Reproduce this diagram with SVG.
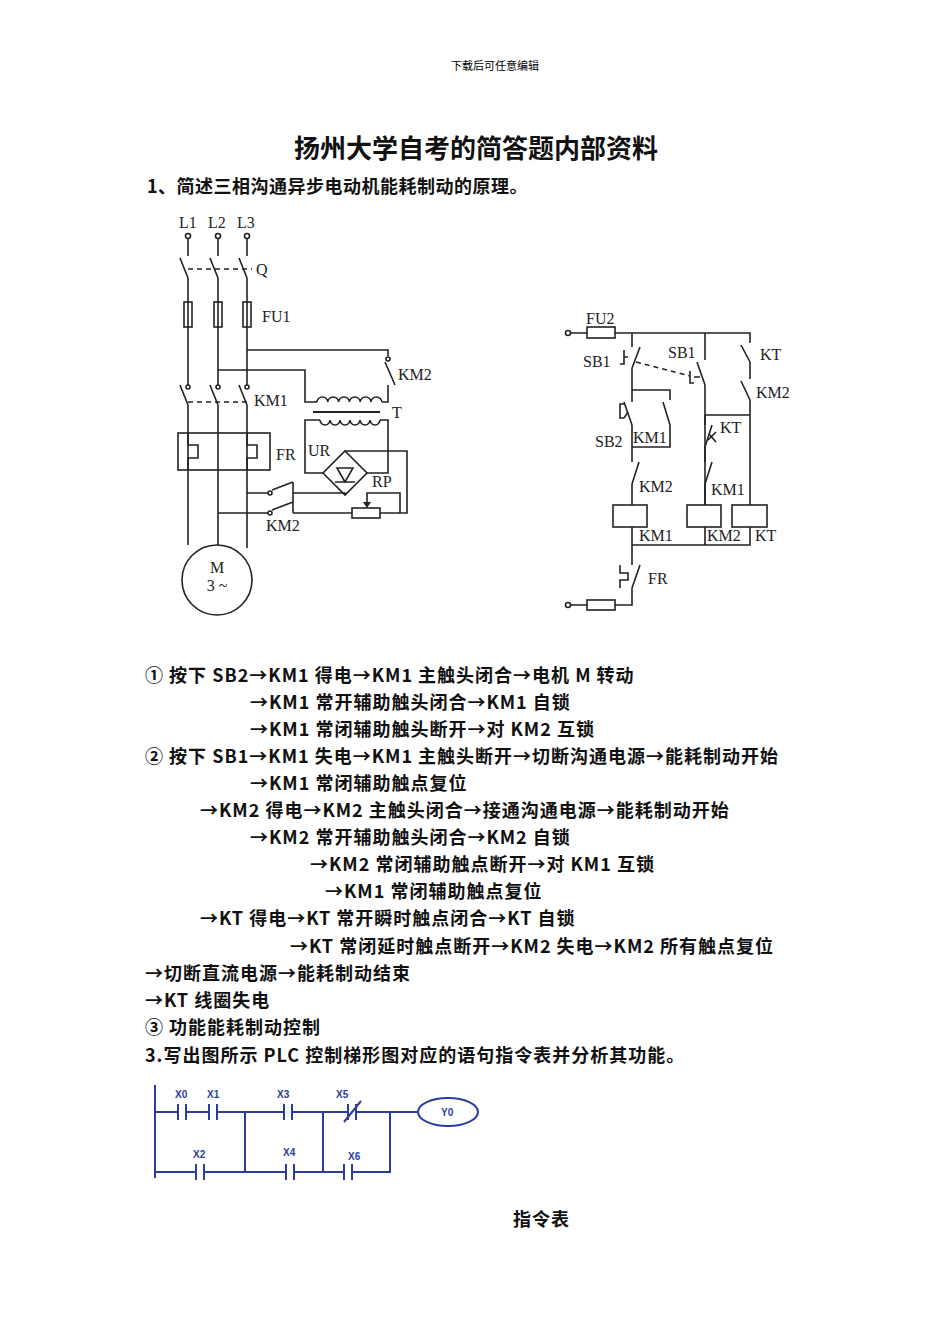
<svg xmlns="http://www.w3.org/2000/svg" width="950" height="1344" viewBox="0 0 950 1344">
<style>
.w{fill:none;stroke:#222;stroke-width:1.6}
.d{fill:none;stroke:#222;stroke-width:1.4;stroke-dasharray:5,4}
.lb{font-family:"Liberation Serif",serif;font-size:16px;fill:#222}
.t{font-family:"Noto Sans CJK SC","Liberation Sans",sans-serif;font-weight:bold;font-size:18px;letter-spacing:1px;fill:#111}
.b{fill:none;stroke:#2a3d9c;stroke-width:2}
.bl{font-family:"Liberation Sans",sans-serif;font-weight:bold;font-size:10px;fill:#2a3d9c}
</style>
<rect width="950" height="1344" fill="#fff"/>
<text x="495" y="70" text-anchor="middle" style="font-family:'Noto Sans CJK SC',sans-serif;font-size:11px">下载后可任意编辑</text>
<text x="476" y="158" text-anchor="middle" class="t" style="font-size:26px;letter-spacing:0">扬州大学自考的简答题内部资料</text>
<text x="147" y="193" class="t" style="letter-spacing:0.5px">1、简述三相沟通异步电动机能耗制动的原理。</text>

<g id="main-circuit">
<text x="179" y="228" class="lb">L1</text><text x="208" y="228" class="lb">L2</text><text x="237" y="228" class="lb">L3</text>
<g class="w">
<circle cx="188" cy="236" r="2.5"/><circle cx="218" cy="236" r="2.5"/><circle cx="247" cy="236" r="2.5"/>
<path d="M188 238V256M180 258L188 278M188 278V385M180 385L188 405M188 405V545"/>
<path d="M218 238V256M210 258L218 278M218 278V385M210 385L218 405M218 405V545"/>
<path d="M247 238V256M239 258L247 278M247 278V385M239 385L247 405M247 405V548"/>
<rect x="184" y="302" width="8" height="25"/><rect x="214" y="302" width="8" height="25"/><rect x="243" y="302" width="8" height="25"/>
<circle cx="188" cy="387" r="2"/><circle cx="218" cy="387" r="2"/><circle cx="247" cy="387" r="2"/>
<rect x="178" y="433" width="92" height="37"/>
<path d="M188 433V445H198V458H188V470M247 433V445H257V458H247V470"/>
<circle cx="217" cy="580" r="35"/>
<path d="M247 350H388V356M385 362L395 385M388 385V402H382"/>
<circle cx="388" cy="359" r="2"/>
<path d="M218 370H305V402H317"/>
<path d="M317 402a5.4 5 0 0 1 10.8 0a5.4 5 0 0 1 10.8 0a5.4 5 0 0 1 10.8 0a5.4 5 0 0 1 10.8 0a5.4 5 0 0 1 10.8 0a5.4 5 0 0 1 10.8 0"/>
<path d="M313 412H380" stroke-width="2"/>
<path d="M320 420a5 5 0 0 0 10 0a5 5 0 0 0 10 0a5 5 0 0 0 10 0a5 5 0 0 0 10 0a5 5 0 0 0 10 0a5 5 0 0 0 10 0"/>
<path d="M320 420H305V473H323M380 420H388V473H367"/>
<path d="M345 451L367 473L345 495L323 473Z"/>
<path d="M335 482H355M345 482L337 468H353Z M337 468H353"/>
<path d="M345 451H407V513H380"/>
<path d="M247 493H268M272 490L293 482M293 482V513M345 495V493H293"/>
<path d="M218 513H268M272 510L293 502M293 513H352"/>
<circle cx="270" cy="493" r="2"/><circle cx="270" cy="513" r="2"/>
<rect x="352" y="508" width="28" height="10"/>
<path d="M400 513V493H367V506"/>
</g>
<path d="M363 502L367 508L371 502Z" fill="#222"/>
<path class="d" d="M188 269H252M188 402H250"/>
<text x="256" y="275" class="lb">Q</text>
<text x="262" y="322" class="lb">FU1</text>
<text x="398" y="380" class="lb">KM2</text>
<text x="254" y="406" class="lb">KM1</text>
<text x="392" y="418" class="lb">T</text>
<text x="308" y="456" class="lb">UR</text>
<text x="276" y="460" class="lb">FR</text>
<text x="372" y="487" class="lb">RP</text>
<text x="266" y="531" class="lb">KM2</text>
<text x="217" y="573" class="lb" text-anchor="middle">M</text>
<text x="217" y="591" class="lb" text-anchor="middle">3 ~</text>
</g>

<g id="control-circuit">
<g class="w">
<circle cx="568" cy="333" r="2.5"/>
<path d="M571 333H587M615 333H750V343M741 345L750 362M750 362V379M741 381L750 400M750 400V505"/>
<rect x="587" y="327" width="28" height="11"/>
<path d="M632 333V347M640 347L632 368M632 368V390M632 390H670V400M663 402L670 425M670 425V447H632M632 390V402M624 402L632 425M632 425V462M639 462L632 484M632 484V505"/>
<path d="M624 357H628M624 350V364H620M624 404H620V418H624M624 418L628 412"/>
<path class="d" d="M636 362L690 376"/>
<path d="M690 371V383H694M694 377H700"/>
<path d="M705 333V360M697 362L705 385M705 385V505M705 415H750"/>
<path d="M705 415V425M712 425L705 447M705 447V462M712 462L705 484M705 484V505"/>
<path d="M708 440L716 432M709 434L716 442"/>
<rect x="613" y="505" width="34" height="22"/>
<rect x="687" y="505" width="34" height="22"/>
<rect x="732" y="505" width="35" height="22"/>
<path d="M632 527V545H750V527M705 527V545M632 545V565M640 565L632 588M632 588V605H615M587 605H571"/>
<path d="M620 565V573H628V580H620V588"/>
<rect x="587" y="600" width="28" height="10"/>
<circle cx="568" cy="605" r="2.5"/>
</g>
<text x="586" y="324" class="lb">FU2</text>
<text x="583" y="367" class="lb">SB1</text>
<text x="668" y="358" class="lb">SB1</text>
<text x="760" y="360" class="lb">KT</text>
<text x="756" y="398" class="lb">KM2</text>
<text x="720" y="433" class="lb">KT</text>
<text x="595" y="447" class="lb">SB2</text>
<text x="633" y="443" class="lb">KM1</text>
<text x="639" y="492" class="lb">KM2</text>
<text x="711" y="495" class="lb">KM1</text>
<text x="639" y="541" class="lb">KM1</text>
<text x="707" y="541" class="lb">KM2</text>
<text x="755" y="541" class="lb">KT</text>
<text x="648" y="584" class="lb">FR</text>
</g>

<g id="text-body" class="t">
<text x="145" y="682">① 按下 SB2→KM1 得电→KM1 主触头闭合→电机 M 转动</text>
<text x="250" y="709">→KM1 常开辅助触头闭合→KM1 自锁</text>
<text x="250" y="736">→KM1 常闭辅助触头断开→对 KM2 互锁</text>
<text x="145" y="763">② 按下 SB1→KM1 失电→KM1 主触头断开→切断沟通电源→能耗制动开始</text>
<text x="250" y="790">→KM1 常闭辅助触点复位</text>
<text x="200" y="817">→KM2 得电→KM2 主触头闭合→接通沟通电源→能耗制动开始</text>
<text x="250" y="844">→KM2 常开辅助触头闭合→KM2 自锁</text>
<text x="310" y="871">→KM2 常闭辅助触点断开→对 KM1 互锁</text>
<text x="325" y="898">→KM1 常闭辅助触点复位</text>
<text x="200" y="925">→KT 得电→KT 常开瞬时触点闭合→KT 自锁</text>
<text x="290" y="953">→KT 常闭延时触点断开→KM2 失电→KM2 所有触点复位</text>
<text x="145" y="980">→切断直流电源→能耗制动结束</text>
<text x="145" y="1007">→KT 线圈失电</text>
<text x="145" y="1034">③ 功能能耗制动控制</text>
<text x="145" y="1062">3.写出图所示 PLC 控制梯形图对应的语句指令表并分析其功能。</text>
<text x="513" y="1226">指令表</text>
</g>

<g id="ladder">
<path class="b" d="M155 1085V1178M155 1112H178M186 1112H209M217 1112H284M292 1112H348M356 1112H418M155 1172H196M204 1172H286M294 1172H344M352 1172H390V1112M245 1112V1172M323 1112V1172"/>
<path class="b" d="M178 1104V1120M186 1104V1120M209 1104V1120M217 1104V1120M284 1104V1120M292 1104V1120M348 1104V1120M356 1104V1120M196 1164V1180M204 1164V1180M286 1164V1180M294 1164V1180M344 1164V1180M352 1164V1180M344 1122L361 1101"/>
<ellipse class="b" cx="448" cy="1112" rx="30" ry="14"/>
<text class="bl" x="441" y="1116">Y0</text>
<text class="bl" x="175" y="1098">X0</text><text class="bl" x="207" y="1098">X1</text><text class="bl" x="277" y="1098">X3</text><text class="bl" x="336" y="1098">X5</text>
<text class="bl" x="193" y="1158">X2</text><text class="bl" x="283" y="1156">X4</text><text class="bl" x="348" y="1160">X6</text>
</g>
</svg>
